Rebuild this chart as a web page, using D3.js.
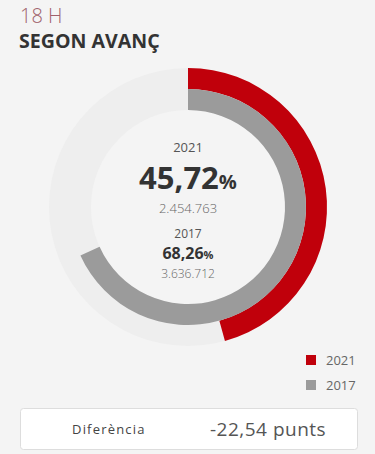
<!DOCTYPE html>
<html>
<head>
<meta charset="utf-8">
<script src="https://cdn.jsdelivr.net/npm/d3@7"></script>
<style>
  html, body { margin: 0; padding: 0; background: #f4f4f4; }
  svg { display: block; font-family: "Open Sans", sans-serif; }
</style>
</head>
<body>
<div id="chart"></div>
<script>
var hour = '18 H';
var title = 'SEGON AVANÇ';
var years = ['2021', '2017'];
var percents = [45.72, 68.26];
var votes = ['2.454.763', '3.636.712'];
var colors = ['#c0000b', '#9b9b9b'];
var diffLabel = 'Diferència';
var diffValue = '-22,54 punts';

var width = 375, height = 454;
var cx = 188, cy = 207;

var svg = d3.select('#chart').append('svg')
    .attr('width', width)
    .attr('height', height);

svg.append('rect')
   .attr('width', width).attr('height', height)
   .attr('fill', '#f4f4f4');

/* cabecera */
svg.append('text')
   .attr('x', 20).attr('y', 23)
   .attr('font-size', 20).attr('font-weight', 300)
   .attr('fill', '#a0616b')
   .text(hour);

svg.append('text')
   .attr('x', 19).attr('y', 48)
   .attr('font-size', 19.6).attr('font-weight', 700)
   .attr('fill', '#333')
   .text(title);

/* anillos */
var angle = d3.scaleLinear().domain([0, 100]).range([0, 2 * Math.PI]);
var rings = [{outer: 139, inner: 118}, {outer: 118, inner: 97}];

var g = svg.append('g').attr('transform', 'translate(' + cx + ',' + cy + ')');

g.append('path')
 .attr('d', d3.arc()({innerRadius: 97, outerRadius: 139, startAngle: 0, endAngle: 2 * Math.PI}))
 .attr('fill', '#eeeeee');

percents.forEach(function(p, i) {
    g.append('path')
     .attr('d', d3.arc()({
         innerRadius: rings[i].inner,
         outerRadius: rings[i].outer,
         startAngle: 0,
         endAngle: angle(p)
     }))
     .attr('fill', colors[i]);
});

function fmt(v) { return d3.format('.2f')(v).replace('.', ','); }

/* textos centrales */
g.append('text').attr('y', -55).attr('text-anchor', 'middle')
 .attr('font-size', 13).attr('fill', '#555').text(years[0]);

var big = g.append('text').attr('y', -18).attr('text-anchor', 'middle')
 .attr('font-size', 31).attr('font-weight', 700).attr('fill', '#333');
big.append('tspan').text(fmt(percents[0]));
big.append('tspan').attr('font-size', 20).text('%');

g.append('text').attr('y', 6).attr('text-anchor', 'middle')
 .attr('font-size', 13).attr('font-weight', 300).attr('fill', '#666').text(votes[0]);

g.append('text').attr('y', 30.5).attr('text-anchor', 'middle')
 .attr('font-size', 12).attr('fill', '#555').text(years[1]);

var small = g.append('text').attr('y', 52).attr('text-anchor', 'middle')
 .attr('font-size', 16).attr('font-weight', 700).attr('fill', '#333');
small.append('tspan').text(fmt(percents[1]));
small.append('tspan').attr('font-size', 11).text('%');

g.append('text').attr('y', 71).attr('text-anchor', 'middle')
 .attr('font-size', 12).attr('font-weight', 300).attr('fill', '#666').text(votes[1]);

/* leyenda */
var legend = svg.append('g').attr('transform', 'translate(306,355)');
years.forEach(function(y, i) {
    legend.append('rect')
          .attr('x', 0).attr('y', i * 25)
          .attr('width', 10).attr('height', 10)
          .attr('fill', colors[i]);
    legend.append('text')
          .attr('x', 20).attr('y', i * 25 + 10)
          .attr('font-size', 13).attr('fill', '#666')
          .text(y);
});

/* caja diferencia */
svg.append('rect')
   .attr('x', 20.5).attr('y', 408.5)
   .attr('width', 337).attr('height', 41)
   .attr('rx', 3)
   .attr('fill', '#fff').attr('stroke', '#ddd');

svg.append('text')
   .attr('x', 72).attr('y', 434)
   .attr('font-size', 13).attr('letter-spacing', 1.2)
   .attr('fill', '#444')
   .text(diffLabel);

svg.append('text')
   .attr('x', 210).attr('y', 436)
   .attr('font-size', 19).attr('letter-spacing', 0.5)
   .attr('fill', '#555')
   .text(diffValue);
</script>
</body>
</html>
